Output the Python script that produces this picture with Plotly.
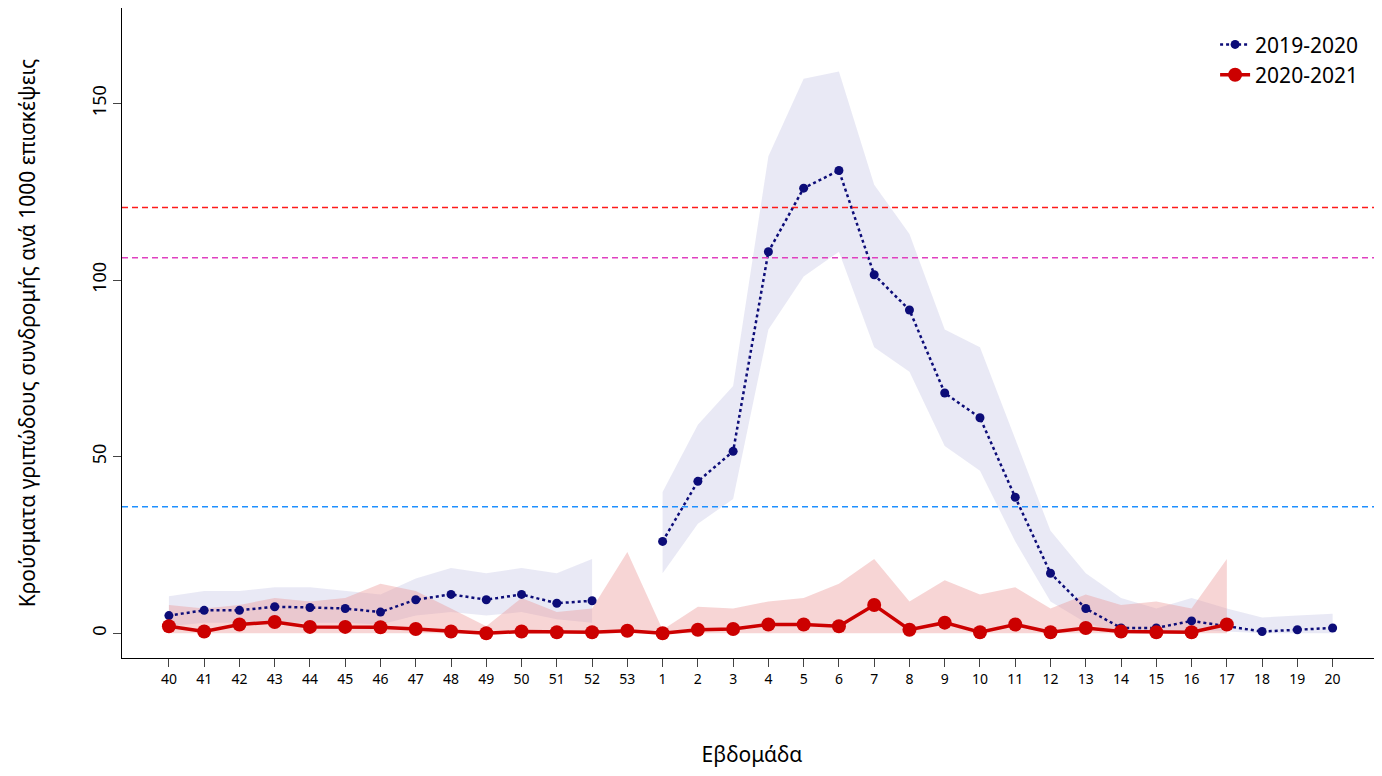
import plotly.graph_objects as go

weeks = [40,41,42,43,44,45,46,47,48,49,50,51,52,53,1,2,3,4,5,6,7,8,9,10,11,12,13,14,15,16,17,18,19,20]
s1 = [5,6.5,6.5,7.5,7.3,7,6,9.5,11,9.5,11,8.5,9.2,None,26,43,51.5,108,126,131,101.5,91.5,68,61,38.5,17,7,1.5,1.5,3.5,2,0.5,1,1.5]
s1_hi = [10.5,12,12,13,13,12,11,15.5,18.5,17,18.5,17,21,None,40,59,70,135,157,159,127,113,86,81,55,29,17,10,7,10,7,4.5,5,5.5]
s1_lo = [2,3,3,3,3,3,2.5,5,6,5,6,4,3,None,17,31,38,86,101,108,81,74,53,46,26,9,3,0,0,1,0.5,0,0,0]
s2 = [2,0.5,2.5,3.2,1.8,1.8,1.7,1.2,0.5,0,0.5,0.3,0.3,0.7,0,1,1.2,2.5,2.5,2,8,1,3,0.3,2.5,0.3,1.5,0.5,0.3,0.3,2.5]
s2_hi = [8,7,8,10,9,10,14,12,7,2,10,6,7,23,1,7.5,7,9,10,14,21,9,15,11,13,7,11,8,9,7,21]
s2_lo = [0]*31
thresholds = [(120.5, "#ff1a1a"), (106.3, "#e040c0"), (35.8, "#1e90ff")]

x = list(range(len(weeks)))
fig = go.Figure()

def band(idx, hi, lo, color):
    xs = [x[i] for i in idx] + [x[i] for i in reversed(idx)]
    ys = [hi[i] for i in idx] + [lo[i] for i in reversed(idx)]
    fig.add_trace(go.Scatter(x=xs, y=ys, fill="toself", fillcolor=color, line=dict(width=0),
                             mode="lines", showlegend=False, hoverinfo="skip"))

band(list(range(0, 13)), s1_hi, s1_lo, "rgba(200,200,230,0.4)")
band(list(range(14, 34)), s1_hi, s1_lo, "rgba(200,200,230,0.4)")
band(list(range(0, 31)), s2_hi, s2_lo, "rgba(235,150,150,0.4)")

for yv, c in thresholds:
    fig.add_shape(type="line", xref="paper", x0=0, x1=1, y0=yv, y1=yv,
                  line=dict(color=c, width=1.5, dash="6px,4px"))

fig.add_trace(go.Scatter(x=x, y=s1, mode="lines+markers", name="2019-2020",
                         line=dict(color="#0c0c78", width=2.5, dash="dot"),
                         marker=dict(size=9, color="#0c0c78"), connectgaps=False))
fig.add_trace(go.Scatter(x=x[:31], y=s2, mode="lines+markers", name="2020-2021",
                         line=dict(color="#cc0000", width=3.5),
                         marker=dict(size=14, color="#cc0000")))

fig.update_layout(
    width=1374, height=760, margin=dict(l=114, r=0, t=0, b=110),
    plot_bgcolor="white", paper_bgcolor="white",
    font=dict(family="Noto Sans", size=15, color="black"),
    legend=dict(x=0.985, y=0.975, xanchor="right", yanchor="top", font=dict(size=21),
                bgcolor="rgba(0,0,0,0)"),
    xaxis=dict(range=[-1.33, 34.4], tickvals=x, ticktext=[str(w) for w in weeks],
               showgrid=False, zeroline=False, showline=True, linecolor="black",
               ticks="outside", ticklen=8, tickfont=dict(size=14), automargin=False,
               title=dict(text="Εβδομάδα", font=dict(size=21), standoff=60)),
    yaxis=dict(range=[-7, 177], tickvals=[0, 50, 100, 150], tickangle=-90,
               showgrid=False, zeroline=False, showline=True, linecolor="black",
               ticks="outside", ticklen=8, tickfont=dict(size=18), automargin=False,
               title=dict(text="Κρούσματα γριπώδους συνδρομής ανά 1000 επισκέψεις",
                          font=dict(size=21), standoff=45)),
)
fig.write_html("out.html")
